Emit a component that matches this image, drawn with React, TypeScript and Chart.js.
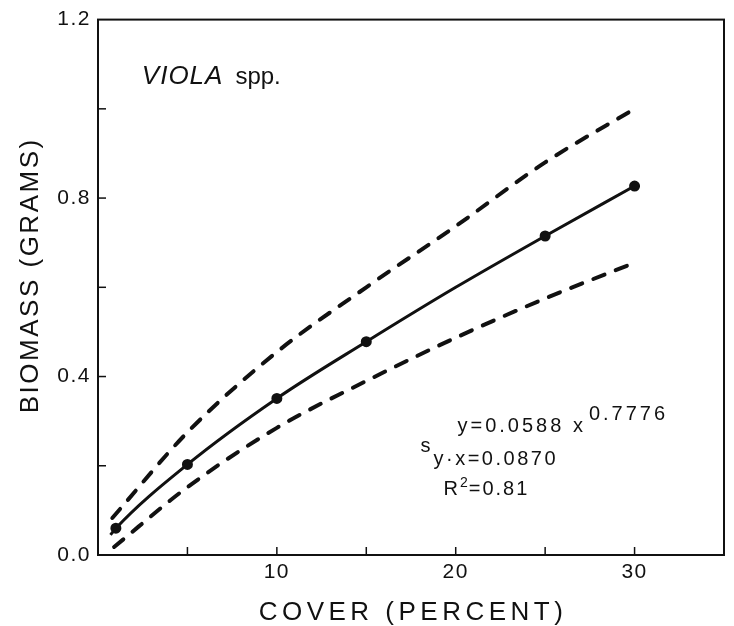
import React, { useEffect, useRef } from "react";
import { Chart, registerables } from "chart.js";

Chart.register(...registerables);

// Fitted curve: y = 0.0588 x^0.7776
const fitX = [0.7, 1, 5, 10, 15, 20, 25, 30];
const fitY = [0.045, 0.06, 0.203, 0.351, 0.478, 0.6, 0.715, 0.827];
const fitMarker = [0, 1, 1, 1, 1, 0, 1, 1];

// Upper confidence band (dashed)
const upperX = [0.8, 5, 10, 15, 20, 25, 30];
const upperY = [0.083, 0.275, 0.455, 0.6, 0.737, 0.88, 1.0];

// Lower confidence band (dashed)
const lowerX = [0.9, 5, 10, 15, 20, 25, 30];
const lowerY = [0.018, 0.152, 0.285, 0.39, 0.487, 0.575, 0.655];

const xLabels = [10, 20, 30];
const yLabels = [0, 0.4, 0.8, 1.2];

const FONT = "'Liberation Sans', Arial, Helvetica, sans-serif";
const INK = "#111";

const toPts = (xs: number[], ys: number[]) => xs.map((x, i) => ({ x, y: ys[i] }));

const framePlugin = {
  id: "frameTicks",
  beforeDraw(chart: any) {
    chart.ctx.letterSpacing = "1.5px";
  },
  afterDraw(chart: any) {
    const { ctx, chartArea: a, scales } = chart;
    const xs = scales.x;
    const ys = scales.y;
    ctx.save();
    ctx.letterSpacing = "0px";
    ctx.strokeStyle = INK;
    ctx.lineWidth = 2;
    ctx.strokeRect(a.left, a.top, a.right - a.left, a.bottom - a.top);
    ctx.lineWidth = 1.5;
    // inward tick marks
    xs.ticks.forEach((t: any) => {
      const px = xs.getPixelForValue(t.value);
      if (px <= a.left + 1 || px >= a.right - 1) return;
      ctx.beginPath();
      ctx.moveTo(px, a.bottom);
      ctx.lineTo(px, a.bottom - 8);
      ctx.stroke();
    });
    ys.ticks.forEach((t: any) => {
      const py = ys.getPixelForValue(t.value);
      if (py <= a.top + 1 || py >= a.bottom - 1) return;
      ctx.beginPath();
      ctx.moveTo(a.left, py);
      ctx.lineTo(a.left + 8, py);
      ctx.stroke();
    });

    ctx.fillStyle = INK;
    ctx.textBaseline = "alphabetic";
    const put = (t: string, px: number, py: number, font: string, sp: string) => {
      ctx.font = font;
      ctx.letterSpacing = sp;
      ctx.textAlign = "left";
      ctx.fillText(t, px, py);
      return px + ctx.measureText(t).width;
    };

    // species label
    const vx = xs.getPixelForValue(2.45);
    const vy = ys.getPixelForValue(1.055);
    const e = put("VIOLA", vx, vy, `italic 26px ${FONT}`, "1px");
    put("spp.", e + 12, vy, `24px ${FONT}`, "0px");

    // equation block
    const ex = xs.getPixelForValue(20.1);
    const ey = ys.getPixelForValue(0.275);
    const e1 = put("y=0.0588 x", ex, ey, `20px ${FONT}`, "3px");
    put("0.7776", e1 + 3, ey - 12, `20px ${FONT}`, "3px");
    const sx = ex - 37;
    put("s", sx, ey + 20, `20px ${FONT}`, "0px");
    put("y·x=0.0870", sx + 13, ey + 33, `20px ${FONT}`, "2.5px");
    const rx = ex - 14;
    const r1 = put("R", rx, ey + 63, `20px ${FONT}`, "0px");
    const r2 = put("2", r1 + 2, ey + 55, `14px ${FONT}`, "0px");
    put("=0.81", r2 + 1, ey + 63, `20px ${FONT}`, "2px");

    // axis titles
    ctx.textAlign = "center";
    ctx.font = `26px ${FONT}`;
    ctx.letterSpacing = "4.5px";
    ctx.fillText("COVER (PERCENT)", (a.left + a.right) / 2 + 2, 620);

    ctx.save();
    ctx.translate(38, (a.top + a.bottom) / 2 - 12);
    ctx.rotate(-Math.PI / 2);
    ctx.font = `26px ${FONT}`;
    ctx.letterSpacing = "2.5px";
    ctx.textAlign = "center";
    ctx.fillText("BIOMASS (GRAMS)", 0, 0);
    ctx.restore();

    ctx.restore();
  },
};

export default function App() {
  const ref = useRef<HTMLCanvasElement | null>(null);
  useEffect(() => {
    if (!ref.current) return;
    const chart = new Chart(ref.current, {
      type: "scatter",
      data: {
        datasets: [
          {
            label: "fit",
            data: toPts(fitX, fitY),
            showLine: true,
            borderColor: INK,
            backgroundColor: INK,
            borderWidth: 3,
            cubicInterpolationMode: "monotone",
            pointRadius: fitMarker.map((m) => (m ? 4 : 0)),
            pointBackgroundColor: INK,
            pointBorderColor: INK,
          },
          {
            label: "upper",
            data: toPts(upperX, upperY),
            showLine: true,
            borderColor: INK,
            borderWidth: 4,
            borderDash: [12, 12],
            borderCapStyle: "round",
            cubicInterpolationMode: "monotone",
            pointRadius: 0,
          },
          {
            label: "lower",
            data: toPts(lowerX, lowerY),
            showLine: true,
            borderColor: INK,
            borderWidth: 4,
            borderDash: [12, 12],
            borderCapStyle: "round",
            cubicInterpolationMode: "monotone",
            pointRadius: 0,
          },
        ],
      },
      options: {
        responsive: false,
        animation: false,
        layout: { padding: { top: 18, right: 10, left: 0, bottom: 0 } },
        plugins: { legend: { display: false }, tooltip: { enabled: false } },
        scales: {
          x: {
            type: "linear",
            min: 0,
            max: 35,
            grid: { display: false, drawTicks: false },
            border: { display: false },
            ticks: {
              stepSize: 5,
              padding: 5,
              color: INK,
              font: { family: FONT, size: 21 },
              maxRotation: 0,
              autoSkip: false,
              callback: (v: any) => (xLabels.includes(Number(v)) ? String(v) : ""),
            },
            afterFit: (s: any) => {
              s.height = 71;
            },
          },
          y: {
            type: "linear",
            min: 0,
            max: 1.2,
            grid: { display: false, drawTicks: false },
            border: { display: false },
            ticks: {
              stepSize: 0.2,
              padding: 7,
              color: INK,
              font: { family: FONT, size: 21 },
              autoSkip: false,
              callback: (v: any) => {
                const n = Number(v);
                return yLabels.some((l) => Math.abs(l - n) < 1e-6) ? n.toFixed(1) : "";
              },
            },
            afterFit: (s: any) => {
              s.width = 98;
            },
          },
        },
      },
      plugins: [framePlugin],
    } as any);
    return () => chart.destroy();
  }, []);
  return (
    <div style={{ position: "fixed", left: 0, top: 0, width: 734, height: 626, background: "#fff" }}>
      <canvas ref={ref} width={734} height={626} style={{ display: "block" }} />
    </div>
  );
}
